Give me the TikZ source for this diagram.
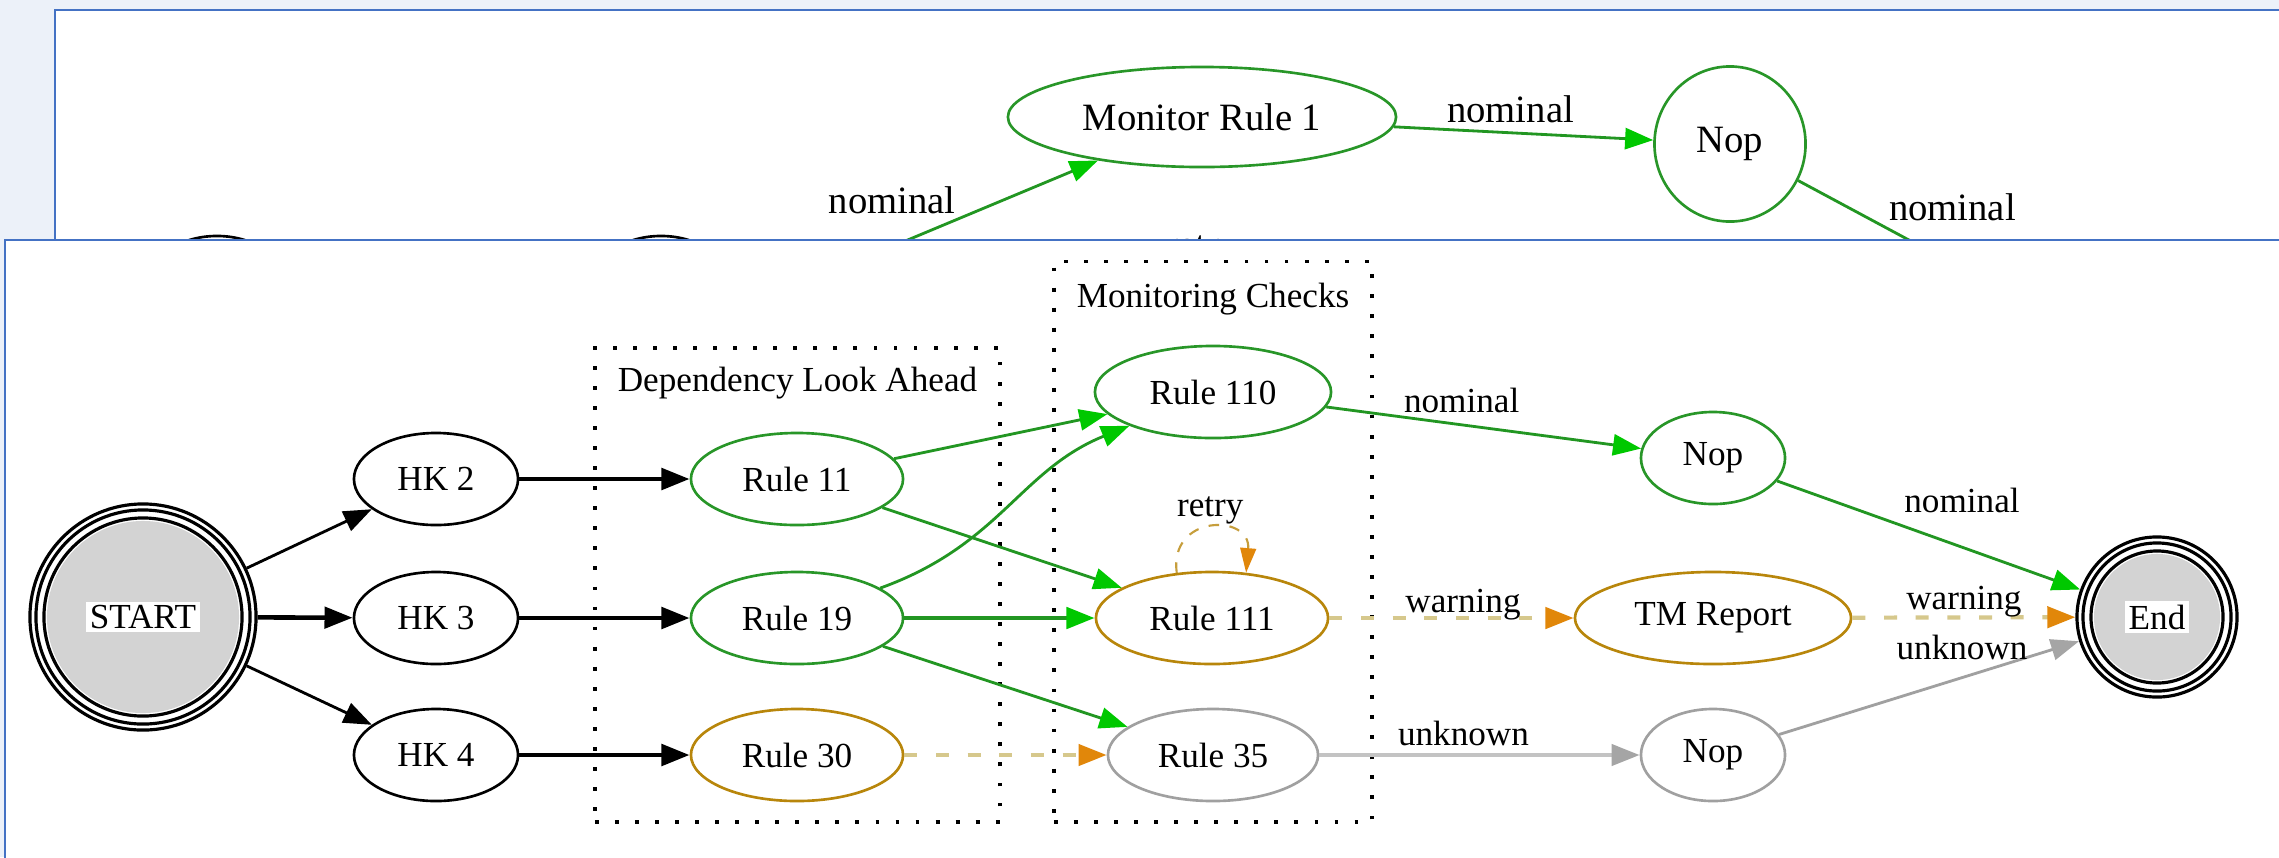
\documentclass[tikz,border=0pt]{standalone}
\usepackage{fontspec}
\setmainfont{Liberation Serif}
\usepackage{xcolor}
\usepackage{tikz}
\usetikzlibrary{arrows.meta,positioning,shapes.geometric}
\definecolor{bgblue}{RGB}{236,241,249}
\definecolor{panelblue}{RGB}{68,114,196}
\definecolor{okline}{RGB}{34,150,34}
\definecolor{okhead}{RGB}{0,200,0}
\definecolor{okborder}{RGB}{40,150,40}
\definecolor{warnborder}{RGB}{184,134,11}
\definecolor{warnline}{RGB}{214,200,140}
\definecolor{warnhead}{RGB}{225,135,10}
\definecolor{unkborder}{RGB}{160,160,160}
\definecolor{unkline}{RGB}{195,195,195}
\definecolor{unkhead}{RGB}{165,165,165}
\definecolor{termgray}{RGB}{211,211,211}
\newcommand{\frontsz}{\fontsize{10}{12}\selectfont}
\newcommand{\backsz}{\fontsize{11}{13}\selectfont}
\newcommand{\wbox}[1]{{\setlength{\fboxsep}{1pt}\colorbox{white}{#1}}}
\tikzset{
  panel/.style={fill=white,draw=panelblue,line width=0.7pt},
  state/.style={ellipse,inner sep=0pt,minimum height=0.92cm,line width=0.75pt,font=\frontsz},
  hkstate/.style={state,draw=black,minimum width=1.64cm},
  okstate/.style={state,draw=okborder},
  warnstate/.style={state,draw=warnborder},
  unkstate/.style={state,draw=unkborder},
  termstate/.style={circle,draw,line width=0.9pt,inner sep=0pt,minimum size=#1,font=\frontsz,
    path picture={
      \fill[termgray] (path picture bounding box.center) circle[radius=0.5*#1-0.17cm];
      \draw[line width=0.9pt] (path picture bounding box.center) circle[radius=0.5*#1-0.06cm];
      \draw[line width=0.9pt] (path picture bounding box.center) circle[radius=0.5*#1-0.14cm];
    }},
  clusbox/.style={draw,line width=1pt,dash pattern=on 1.1pt off 4.6pt,inner sep=0pt},
  lbl/.style={font=\frontsz,inner sep=0pt,anchor=base},
  blkedge/.style={line width=0.8pt,-{Triangle[length=8pt,width=6pt]}},
  okedge/.style={draw=okline,line width=0.8pt,-{Triangle[length=8pt,width=6pt,color=okhead]}},
  warnedge/.style={draw=warnline,line width=1.2pt,dash pattern=on 3.7pt off 5.3pt,
    -{Triangle[length=8pt,width=6pt,color=warnhead]}},
  retryedge/.style={draw=warnborder!80,line width=0.6pt,dash pattern=on 3pt off 3pt,
    -{Triangle[length=7pt,width=4.5pt,color=warnhead]}},
  unkedge/.style={draw=unkline,line width=1.2pt,-{Triangle[length=8pt,width=6pt,color=unkhead]}},
}
\begin{document}
\begin{tikzpicture}[x=0.01cm,y=-0.01cm]
  \useasboundingbox (0,0) rectangle (2279,857);
  \clip (0,0) rectangle (2279,857);
  \fill[bgblue] (0,0) rectangle (2279,857);
  % slide behind
  \draw[panel] (55,10) rectangle (2400,1000);
  \node[okstate,minimum width=3.88cm,minimum height=1cm,font=\backsz] (mon1) at (1202,117) {Monitor Rule 1};
  \node[okstate,minimum width=1.51cm,minimum height=1.55cm,font=\backsz] (nopz) at (1730,144) {Nop};
  \node[hkstate,minimum width=1.4cm,minimum height=1cm] (hidA) at (217,286) {};
  \node[hkstate,minimum width=1.4cm,minimum height=1cm] (hidB) at (661,286) {};
  \node[lbl,font=\backsz] (retryz) at (1202,257) {retry};
  \coordinate (inz) at (788,290);
  \coordinate (outz) at (2030,305);
  \draw[okedge] (inz) -- (mon1) node[lbl,font=\backsz,pos=0.545,anchor=base east,yshift=1.7pt]{nominal};
  \draw[okedge] (mon1) -- (nopz) node[lbl,font=\backsz,pos=0.45,yshift=2.8pt]{nominal};
  \draw[okedge] (nopz) -- (outz) node[lbl,font=\backsz,pos=0.386,anchor=base west,yshift=2.3pt]{nominal};
  % slide in front
  \draw[panel] (5,240) rectangle (2400,1000);
  % clusters
  \node[clusbox,minimum width=4.05cm,minimum height=4.74cm] (depbox) at (797.5,585) {};
  \node[lbl,anchor=north,below=5.8pt of depbox.north] (deplbl) {Dependency Look Ahead};
  \node[clusbox,minimum width=3.18cm,minimum height=5.6cm] (monbox) at (1213,541.75) {};
  \node[lbl,anchor=north,below=6.5pt of monbox.north] (monlbl) {Monitoring Checks};
  % states
  \node[termstate=2.26cm] (start) at (143,617) {\wbox{START}};
  \node[hkstate] (hk2) at (436,479) {HK 2};
  \node[hkstate] (hk3) at (436,618) {HK 3};
  \node[hkstate] (hk4) at (436,755) {HK 4};
  \node[okstate,minimum width=2.12cm] (r11) at (797,479) {Rule 11};
  \node[okstate,minimum width=2.12cm] (r19) at (797,618) {Rule 19};
  \node[warnstate,minimum width=2.12cm] (r30) at (797,755) {Rule 30};
  \node[okstate,minimum width=2.36cm] (r110) at (1213,392) {Rule 110};
  \node[warnstate,minimum width=2.32cm] (r111) at (1212,618) {Rule 111};
  \node[unkstate,minimum width=2.10cm] (r35) at (1213,755) {Rule 35};
  \node[okstate,minimum width=1.44cm] (nopa) at (1713,458) {Nop};
  \node[warnstate,minimum width=2.76cm] (tmrep) at (1713,618) {TM Report};
  \node[unkstate,minimum width=1.44cm] (nopb) at (1713,755) {Nop};
  \node[termstate=1.6cm] (finish) at (2157,617) {\wbox{End}};
  % edges
  \draw[blkedge] (start) -- (hk2);
  \draw[blkedge,line width=1.3pt] (start) -- (hk3);
  \draw[blkedge] (start) -- (hk4);
  \foreach \a/\b in {hk2/r11,hk3/r19,hk4/r30}
    \draw[blkedge,line width=1.4pt] (\a) -- (\b);
  \draw[okedge] (r11) -- (r110);
  \draw[okedge] (r11) -- (r111);
  \draw[okedge] (r19) .. controls (1000,545) and (1020,470) .. (r110);
  \draw[okedge,line width=1.3pt] (r19) -- (r111);
  \draw[okedge] (r19) -- (r35);
  \draw[warnedge] (r30) -- (r35);
  \draw[retryedge] (r111.128) .. controls +(-8,-59) and +(5,-59) .. (r111.53)
    node[lbl,pos=0.5,yshift=3.4pt]{retry};
  \draw[okedge] (r110) -- (nopa) node[lbl,pos=0.43,yshift=3.4pt]{nominal};
  \draw[okedge] (nopa) -- (finish) node[lbl,pos=0.61,yshift=10pt]{nominal};
  \draw[warnedge] (r111) -- (tmrep) node[lbl,pos=0.547,yshift=1.7pt]{warning};
  \draw[warnedge] (tmrep) -- (finish) node[lbl,pos=0.5,yshift=2.3pt]{warning};
  \draw[unkedge] (r35) -- (nopb) node[lbl,pos=0.45,yshift=2.6pt]{unknown};
  \draw[unkedge,draw=unkborder,line width=0.8pt] (nopb) -- (finish) node[lbl,pos=0.61,yshift=5.1pt]{unknown};
\end{tikzpicture}
\end{document}
